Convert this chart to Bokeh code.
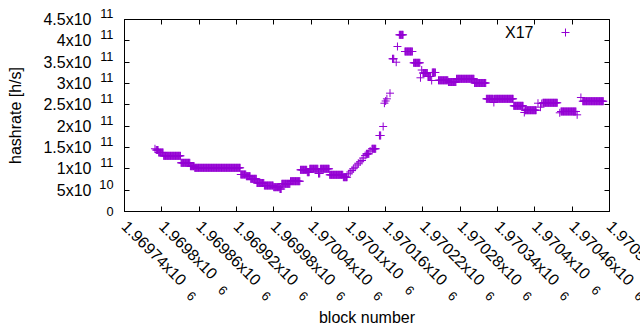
import math
import numpy as np
from bokeh.plotting import figure
from bokeh.models import (FixedTicker, LinearAxis, Legend, LegendItem, Label,
                          ColumnDataSource, CustomJSTickFormatter)
from bokeh.embed import file_html
from bokeh.resources import INLINE

# ---- data (run-length segments of per-block hashrate, h/s) ----
seg_start = [1969789, 1969791, 1969795, 1969803, 1969831, 1969846, 1969853, 1969927,
             1969936, 1969943, 1969953, 1969965, 1969980, 1969990, 1969993, 1970007,
             1970023, 1970034, 1970038, 1970052, 1970055, 1970070, 1970092, 1970100,
             1970103, 1970106, 1970108, 1970111, 1970114, 1970116, 1970119, 1970122,
             1970124, 1970127, 1970129, 1970135, 1970138, 1970150, 1970156, 1970158,
             1970160, 1970162, 1970167, 1970171, 1970177, 1970179, 1970182, 1970191,
             1970205, 1970216, 1970218, 1970220, 1970228, 1970234, 1970235, 1970245,
             1970261, 1970274, 1970303, 1970322, 1970334, 1970335, 1970366, 1970383,
             1970384, 1970405, 1970409, 1970411, 1970413, 1970440, 1970442, 1970468,
             1970474, 1970477]
seg_end = [1969789, 1969794, 1969802, 1969830, 1969845, 1969852, 1969926, 1969935,
           1969942, 1969952, 1969964, 1969979, 1969989, 1969992, 1970006, 1970022,
           1970033, 1970037, 1970051, 1970054, 1970069, 1970091, 1970098, 1970100,
           1970103, 1970106, 1970108, 1970111, 1970114, 1970116, 1970119, 1970122,
           1970124, 1970127, 1970133, 1970135, 1970144, 1970152, 1970156, 1970158,
           1970160, 1970162, 1970167, 1970173, 1970177, 1970179, 1970188, 1970203,
           1970215, 1970216, 1970218, 1970227, 1970232, 1970234, 1970240, 1970260,
           1970273, 1970302, 1970321, 1970333, 1970334, 1970365, 1970381, 1970383,
           1970402, 1970405, 1970409, 1970411, 1970436, 1970440, 1970466, 1970468,
           1970474, 1970510]
seg_value = [1.470e11, 1.441e11, 1.383e11, 1.305e11, 1.141e11, 1.062e11, 1.024e11, 0.867e11,
             0.827e11, 0.766e11, 0.668e11, 0.609e11, 0.570e11, 0.527e11, 0.649e11, 0.710e11,
             0.977e11, 0.921e11, 1.001e11, 0.891e11, 1.001e11, 0.860e11, 0.804e11, 0.884e11,
             0.926e11, 0.961e11, 1.001e11, 1.038e11, 1.090e11, 1.132e11, 1.165e11, 1.195e11,
             1.254e11, 1.313e11, 1.352e11, 1.418e11, 1.470e11, 1.781e11, 1.992e11, 2.538e11,
             2.590e11, 2.641e11, 2.773e11, 3.579e11, 3.499e11, 3.867e11, 4.141e11, 3.750e11,
             3.485e11, 3.134e11, 3.316e11, 3.246e11, 3.164e11, 3.070e11, 3.258e11, 3.075e11,
             3.035e11, 3.110e11, 3.012e11, 2.641e11, 2.555e11, 2.641e11, 2.477e11, 2.320e11,
             2.374e11, 2.538e11, 2.445e11, 2.531e11, 2.548e11, 2.313e11, 2.344e11, 2.266e11,
             2.672e11, 2.585e11]
series_name = "X17"

x_ticks = [1969740, 1969800, 1969860, 1969920, 1969980, 1970040, 1970100,
           1970160, 1970220, 1970280, 1970340, 1970400, 1970460, 1970520]
x_tick_labels = ["1.96974x10", "1.9698x10", "1.96986x10", "1.96992x10",
                 "1.96998x10", "1.97004x10", "1.9701x10", "1.97016x10",
                 "1.97022x10", "1.97028x10", "1.97034x10", "1.9704x10",
                 "1.97046x10", "1.97052x10"]
x_tick_sup = "6"
y_ticks = [0, 5e10, 1e11, 1.5e11, 2e11, 2.5e11, 3e11, 3.5e11, 4e11, 4.5e11]
y_tick_labels = ["0", "5x10", "1x10", "1.5x10", "2x10", "2.5x10",
                 "3x10", "3.5x10", "4x10", "4.5x10"]
y_tick_sups = ["", "10", "11", "11", "11", "11", "11", "11", "11", "11"]

# expand runs to one point per block
blocks = np.concatenate([np.arange(s, e + 1) for s, e in zip(seg_start, seg_end)])
values = np.concatenate([np.full(e - s + 1, v) for s, e, v in zip(seg_start, seg_end, seg_value)])
src = ColumnDataSource(dict(block=blocks, hashrate=values))

# ---- layout constants ----
FONT = "Liberation Sans"
FSZ = 16.0
SUPZ = 12.8
COLOR = "#9400D3"
FW, FH = 485, 192
ADV = {'0': .556, '1': .556, '2': .556, '3': .556, '4': .556, '5': .556, '6': .556,
       '7': .556, '8': .556, '9': .556, '.': .278, 'x': .5, ' ': .278}

def tw(s, fs):
    return sum(ADV.get(c, .556) for c in s) * fs

NBSP = "\u00a0"
NB_W = 0.278 * SUPZ
YRAISE = 5.0                 # exponent raise of the y labels (px)
XGAP = 9.8                   # mantissa -> exponent gap along rotated x labels (px)
XRAISE = -2.2                # exponent offset perpendicular to rotated x labels (px)
XLAB_STANDOFF = 12           # distance of rotated labels from the axis
C45 = math.cos(math.pi / 4)

p = figure(frame_width=FW, frame_height=FH,
           x_range=(x_ticks[0], x_ticks[-1]), y_range=(y_ticks[0], y_ticks[-1]),
           output_backend="svg", toolbar_location=None,
           min_border_left=124, min_border_right=31, min_border_top=19, min_border_bottom=119)
p.background_fill_color = "white"
p.border_fill_color = "white"
p.outline_line_color = "black"
p.outline_line_alpha = 1
p.outline_line_width = 1
p.grid.visible = False

r = p.scatter(x="block", y="hashrate", source=src, marker="cross", size=8,
              line_color=COLOR, line_width=1)

blank = CustomJSTickFormatter(code="return ''")

def tick_axis(ax, ticks, line=True):
    ax.ticker = FixedTicker(ticks=ticks, minor_ticks=[])
    ax.formatter = blank
    ax.major_label_text_font_size = "0px"
    ax.major_label_standoff = 0
    ax.major_tick_in = 5
    ax.major_tick_out = 0
    ax.minor_tick_line_color = None
    ax.major_tick_line_color = "black"
    ax.axis_line_color = "black" if line else None

def label_axis(ax, ticks, labels, size, standoff, extra=()):
    # 'extra' ticks carry empty labels; placed last they keep Bokeh from
    # pulling the real edge label back inside the canvas
    ax.ticker = FixedTicker(ticks=list(ticks) + list(extra), minor_ticks=[])
    ax.formatter = CustomJSTickFormatter(code="return ''")
    ax.major_label_overrides = dict(zip(ticks, labels))
    ax.major_label_text_font = FONT
    ax.major_label_text_font_size = size
    ax.major_label_text_color = "black"
    ax.major_label_standoff = standoff
    ax.major_tick_in = 0
    ax.major_tick_out = 0
    ax.major_tick_line_color = None
    ax.minor_tick_line_color = None
    ax.axis_line_color = None
    ax.axis_label_text_font = FONT
    ax.axis_label_text_font_size = "16px"
    ax.axis_label_text_font_style = "normal"
    ax.axis_label_text_color = "black"

# tick marks on all four sides
tick_axis(p.xaxis[0], x_ticks)
tick_axis(p.yaxis[0], y_ticks)
top = LinearAxis(); tick_axis(top, x_ticks, line=False); p.add_layout(top, "above")
right = LinearAxis(); tick_axis(right, y_ticks, line=False); p.add_layout(right, "right")

# ---- y labels: exponent column next to the frame (raised by an empty 2nd line),
#      mantissa column outside it ----
ysup_labels = [(s + "\n") if s else l for l, s in zip(y_tick_labels, y_tick_sups)]
ysup = LinearAxis()
label_axis(ysup, y_ticks, ysup_labels, "12.8px", 11)
ysup.major_label_text_line_height = 2 * YRAISE / SUPZ
p.add_layout(ysup, "left")

ymain_ticks = [t for t, s in zip(y_ticks, y_tick_sups) if s]
ymain_labels = [l for l, s in zip(y_tick_labels, y_tick_sups) if s]
ymain = LinearAxis()
label_axis(ymain, ymain_ticks, ymain_labels, "16px", 5)
ymain.axis_label = "hashrate [h/s]"
ymain.axis_label_standoff = 16
p.add_layout(ymain, "left")

# ---- x labels: rotated mantissa, then rotated exponent further along the line ----
edge_dummy = [x_ticks[-1] - 0.5]
xmain = LinearAxis()
label_axis(xmain, x_ticks, x_tick_labels, "16px", XLAB_STANDOFF, extra=edge_dummy)
xmain.major_label_orientation = -math.pi / 4
p.add_layout(xmain, "below")

long_along = tw(x_tick_labels[0], FSZ) + XGAP
n_long = 12
A = long_along - n_long * NB_W           # along-distance of exponent anchors
shift_px = C45 * (A + XRAISE)
px_per_block = FW / (x_ticks[-1] - x_ticks[0])
xsup_ticks, xsup_labels = [], []
for t, lab in zip(x_ticks, x_tick_labels):
    pos = t + shift_px / px_per_block
    if pos <= x_ticks[-1]:
        need = tw(lab, FSZ) + XGAP - A
        k = int(need // NB_W)
        rem = need - k * NB_W
        pad = NBSP * k + ("\u2009" if rem > 0.35 * NB_W else "")
        xsup_ticks.append(round(pos, 3))
        xsup_labels.append(pad + x_tick_sup)
xsup = LinearAxis()
label_axis(xsup, xsup_ticks, xsup_labels, "12.8px", -34, extra=edge_dummy)
xsup.major_label_orientation = -math.pi / 4
xsup.axis_label = "block number"
xsup.axis_label_standoff = -3
p.add_layout(xsup, "below")

# ---- key: text on the left, sample on the right (gnuplot style) ----
legend = Legend(items=[LegendItem(label=" ", renderers=[r])],
                location=(431, 169), padding=0, margin=0, spacing=0,
                glyph_width=20, glyph_height=20, label_standoff=0, label_width=0,
                label_text_font=FONT, label_text_font_size="8px",
                border_line_color=None, background_fill_alpha=0)
p.add_layout(legend)
p.add_layout(Label(x=409, y=179, x_units="screen", y_units="screen", text=series_name,
                   text_align="right", text_baseline="middle",
                   text_font=FONT, text_font_size="16px", text_color="black"))

open("out.html", "w").write(file_html(p, INLINE))
